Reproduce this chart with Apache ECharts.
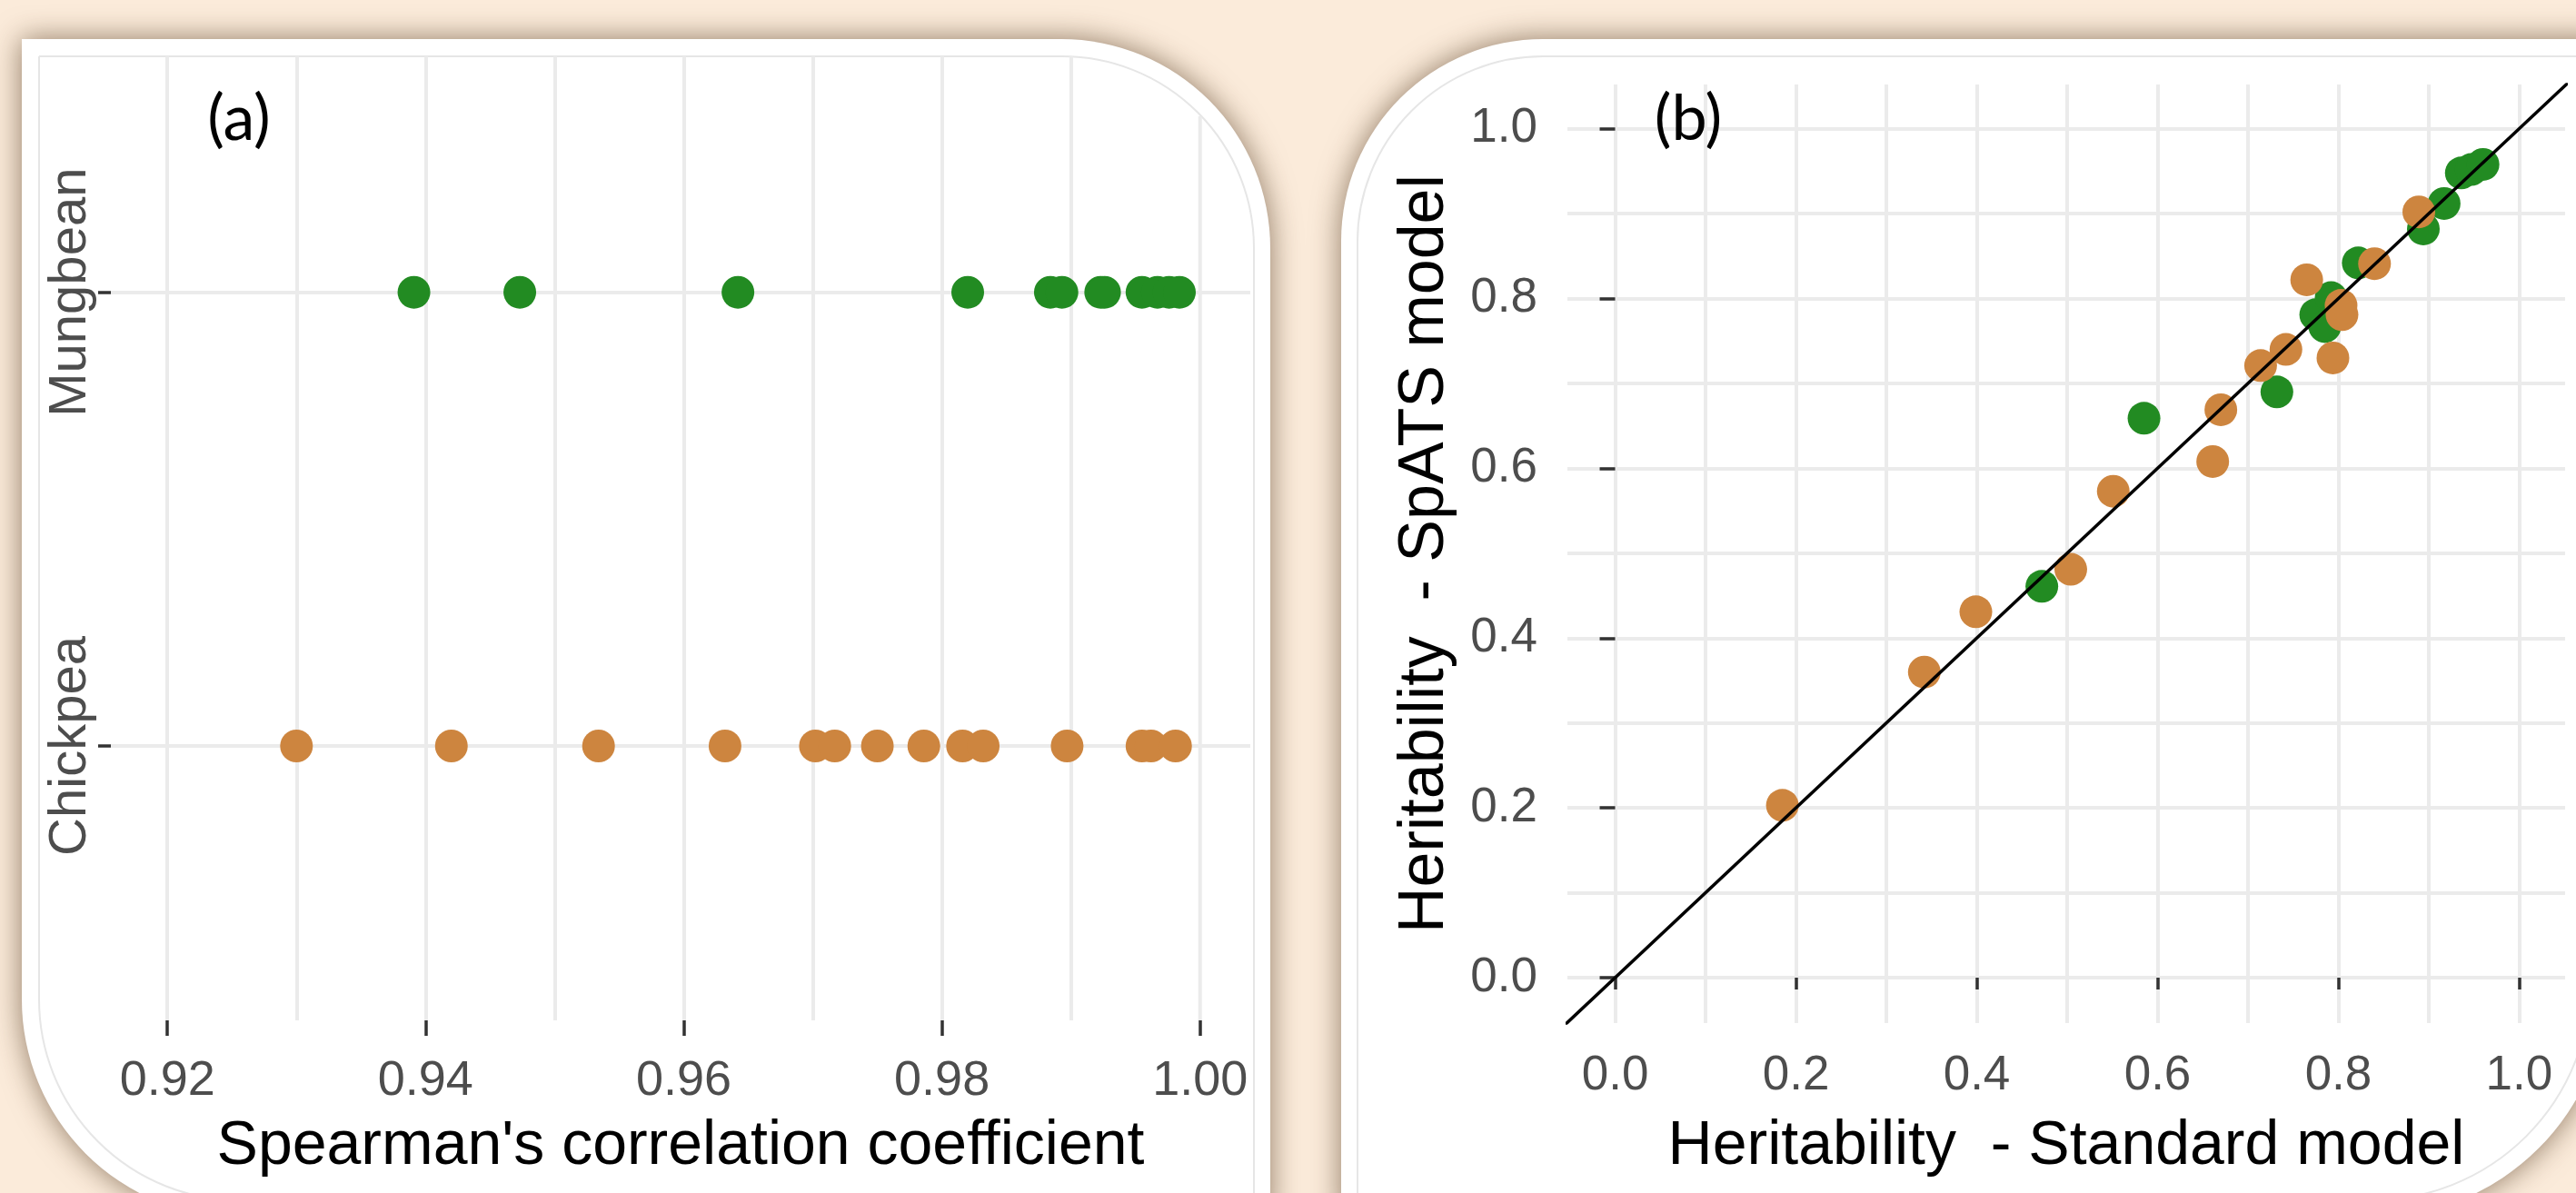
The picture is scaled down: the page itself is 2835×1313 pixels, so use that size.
<!DOCTYPE html>
<html><head><meta charset="utf-8">
<script src="https://cdn.jsdelivr.net/npm/echarts@6/dist/echarts.min.js"></script>
<style>html,body{margin:0;padding:0;background:#FBEBDA}#c{width:2835px;height:1313px}</style>
</head><body><div id="c"></div>
<script>
// ---------- data ----------
const crops = ['Chickpea', 'Mungbean'];
const mungbeanRho = [0.9391, 0.9473, 0.9642, 0.9820, 0.9884, 0.9893, 0.9923, 0.9926, 0.9955, 0.9967, 0.9976, 0.9984];
const chickpeaRho = [0.9300, 0.9420, 0.9534, 0.9632, 0.9702, 0.9717, 0.9750, 0.9786, 0.9816, 0.9832, 0.9897, 0.9955, 0.9962, 0.9981];
const mungbeanStd   = [0.472, 0.585, 0.732, 0.775, 0.785, 0.792, 0.822, 0.894, 0.917, 0.936, 0.947, 0.960];
const mungbeanSpats = [0.461, 0.659, 0.690, 0.781, 0.767, 0.801, 0.842, 0.882, 0.912, 0.948, 0.952, 0.958];
const chickpeaStd   = [0.185, 0.342, 0.399, 0.504, 0.551, 0.661, 0.670, 0.714, 0.742, 0.765, 0.794, 0.803, 0.804, 0.840, 0.889];
const chickpeaSpats = [0.203, 0.360, 0.431, 0.481, 0.573, 0.608, 0.669, 0.721, 0.740, 0.822, 0.730, 0.792, 0.781, 0.841, 0.902];
const rhoTicks = [0.92, 0.94, 0.96, 0.98, 1.00];
const rhoGridInside = [0.92, 0.93, 0.94, 0.95, 0.96, 0.97, 0.98, 0.99]; // full-height grid lines
const rhoGridCorner = 1.00;   // grid line cut by the rounded panel corner
const rhoCornerTop = 2.388;   // y (category scale) where the rounded corner cuts it
const herTicks = [0, 0.2, 0.4, 0.6, 0.8, 1.0];
const herMinor = [0.1, 0.3, 0.5, 0.7, 0.9];
const identityEnds = [-0.1, 1.1];
const panelLabels = ['(a)', '(b)'];
const xTitles = ["Spearman's correlation coefficient", 'Heritability  - Standard model'];
const yTitleB = 'Heritability  - SpATS model';

// ---------- styling ----------
const GREEN = '#228B22', ORANGE = '#CD853F';
const FONT = 'Liberation Sans, Arial, sans-serif';
const GRID_COLOR = '#EBEBEB';
const gridLine = { show: true, lineStyle: { color: GRID_COLOR, width: 4 } };
const labelBase = { color: '#4D4D4D', fontFamily: FONT };
const DOT = 36;
const A_YMIN = 0.3952, A_YMAX = 2.520;

function minorAxis(gridIndex, min, max, values) {
  return {
    type: 'value', gridIndex, min, max,
    axisLine: { show: false }, axisLabel: { show: false },
    axisTick: { show: false, customValues: values },
    splitLine: gridLine
  };
}

const chart = echarts.init(document.getElementById('c'), null, { renderer: 'canvas' });
const option = {
  animation: false,
  backgroundColor: '#FBEBDA',
  grid: [
    { left: 122, top: 62, width: 1254, height: 1061, containLabel: false, outerBoundsMode: 'none' },
    { left: 1725, top: 93, width: 1098, height: 1033, containLabel: false, outerBoundsMode: 'none' }
  ],
  xAxis: [
    {
      type: 'value', gridIndex: 0, min: 0.91562, max: 1.00389,
      axisLine: { show: false },
      axisTick: { show: true, length: 17, customValues: rhoTicks, lineStyle: { color: '#333', width: 3.5 } },
      axisLabel: Object.assign({ customValues: rhoTicks, fontSize: 54, margin: 40, formatter: v => Number(v).toFixed(2) }, labelBase),
      splitLine: { show: false },
      name: xTitles[0], nameLocation: 'middle', nameGap: 105, nameMoveOverlap: false,
      nameTextStyle: { fontSize: 68, color: '#000', fontFamily: FONT }
    },
    minorAxis(0, 0.91562, 1.00389, rhoGridInside),
    {
      type: 'value', gridIndex: 1, min: -0.0528, max: 1.0508,
      axisLine: { show: false },
      axisTick: { show: true, length: 13, customValues: herTicks, lineStyle: { color: '#333', width: 3.5 } },
      axisLabel: Object.assign({ customValues: herTicks, fontSize: 53, margin: 32, formatter: v => Number(v).toFixed(1) }, labelBase),
      splitLine: gridLine,
      name: xTitles[1], nameLocation: 'middle', nameGap: 102, nameMoveOverlap: false,
      nameTextStyle: { fontSize: 68, color: '#000', fontFamily: FONT }
    },
    minorAxis(1, -0.0528, 1.0508, herMinor)
  ],
  yAxis: [
    {
      type: 'value', gridIndex: 0, min: A_YMIN, max: A_YMAX,
      axisLine: { show: false },
      axisTick: { show: true, length: 14, customValues: [1, 2], lineStyle: { color: '#333', width: 3.5 } },
      axisLabel: Object.assign({ customValues: [1, 2], fontSize: 58, rotate: 90, margin: 15, formatter: v => crops[Math.round(v) - 1] }, labelBase),
      splitLine: gridLine
    },
    {
      type: 'value', gridIndex: 1, min: -0.0535, max: 1.0521,
      axisLine: { show: false },
      axisTick: { show: true, length: 17, customValues: herTicks, lineStyle: { color: '#333', width: 3.5 } },
      axisLabel: Object.assign({ customValues: herTicks, fontSize: 53, margin: 33, padding: [18, 0, 0, 0], formatter: v => Number(v).toFixed(1) }, labelBase),
      splitLine: gridLine,
      name: yTitleB, nameLocation: 'middle', nameRotate: 90, nameGap: 121, nameMoveOverlap: false,
      nameTextStyle: { fontSize: 70, color: '#000', fontFamily: FONT }
    },
    minorAxis(1, -0.0535, 1.0521, herMinor)
  ],
  series: [
    {
      type: 'line', xAxisIndex: 0, yAxisIndex: 0, z: 1, silent: true,
      showSymbol: false, symbol: 'none', clip: true,
      lineStyle: { color: GRID_COLOR, width: 4 },
      data: [[rhoGridCorner, A_YMIN], [rhoGridCorner, rhoCornerTop]]
    },
    {
      type: 'scatter', xAxisIndex: 0, yAxisIndex: 0, symbolSize: DOT, z: 3,
      itemStyle: { color: GREEN, opacity: 1 },
      data: mungbeanRho.map(v => [v, crops.indexOf('Mungbean') + 1])
    },
    {
      type: 'scatter', xAxisIndex: 0, yAxisIndex: 0, symbolSize: DOT, z: 3,
      itemStyle: { color: ORANGE, opacity: 1 },
      data: chickpeaRho.map(v => [v, crops.indexOf('Chickpea') + 1])
    },
    {
      type: 'scatter', xAxisIndex: 2, yAxisIndex: 1, symbolSize: DOT,
      itemStyle: { color: GREEN, opacity: 1 },
      data: mungbeanStd.map((v, i) => [v, mungbeanSpats[i]])
    },
    {
      type: 'scatter', xAxisIndex: 2, yAxisIndex: 1, symbolSize: DOT,
      itemStyle: { color: ORANGE, opacity: 1 },
      data: chickpeaStd.map((v, i) => [v, chickpeaSpats[i]])
    },
    {
      type: 'line', xAxisIndex: 2, yAxisIndex: 1, showSymbol: false, symbol: 'none', clip: true,
      lineStyle: { color: '#000', width: 3.5 },
      data: identityEnds.map(v => [v, v])
    }
  ],
  graphic: [
    {
      type: 'rect', z: -100, silent: true,
      shape: { x: 24, y: 43, width: 1374, height: 1297, r: [0, 230, 0, 240] },
      style: { fill: '#FFFFFF', shadowBlur: 32, shadowColor: 'rgba(70,45,20,0.6)' }
    },
    {
      type: 'rect', z: -100, silent: true,
      shape: { x: 1476, y: 43, width: 1394, height: 1297, r: [222, 0, 260, 0] },
      style: { fill: '#FFFFFF', shadowBlur: 32, shadowColor: 'rgba(70,45,20,0.6)' }
    },
    {
      type: 'rect', z: -90, silent: true,
      shape: { x: 43, y: 62, width: 1337, height: 1259, r: [0, 211, 0, 221] },
      style: { fill: null, stroke: '#E6E6E6', lineWidth: 2 }
    },
    {
      type: 'rect', z: -90, silent: true,
      shape: { x: 1494, y: 62, width: 1357, height: 1259, r: [204, 0, 241, 0] },
      style: { fill: null, stroke: '#E6E6E6', lineWidth: 2 }
    },
    {
      type: 'text', z: 100, x: 263, y: 131, silent: true,
      style: { text: panelLabels[0], fontSize: 70, fontFamily: 'Lato, Open Sans, sans-serif', fill: '#000', align: 'center', verticalAlign: 'middle' }
    },
    {
      type: 'text', z: 100, x: 1858, y: 131, silent: true,
      style: { text: panelLabels[1], fontSize: 70, fontFamily: 'Lato, Open Sans, sans-serif', fill: '#000', align: 'center', verticalAlign: 'middle' }
    }
  ]
};
chart.setOption(option);
</script>
</body></html>
